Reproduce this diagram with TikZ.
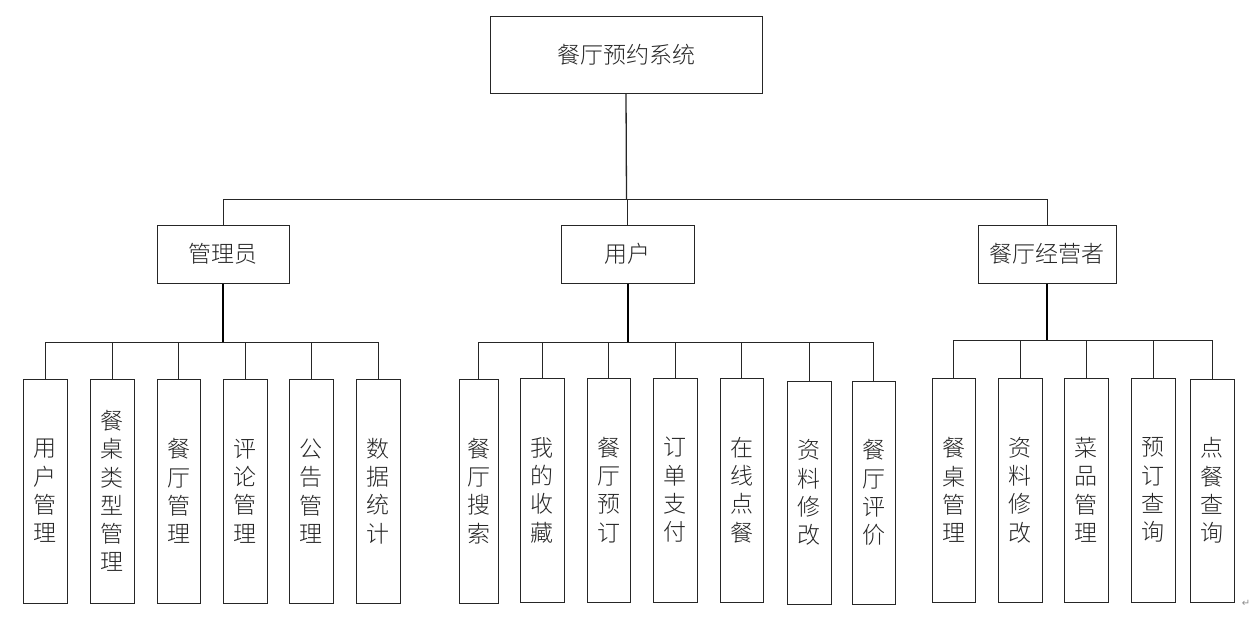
\documentclass[tikz,border=0pt]{standalone}
\usepackage{fontspec}
\newfontfamily\cjk{Noto Sans CJK SC}[UprightFont={* Light}]
\newfontfamily\dejavu{DejaVu Sans}
\begin{document}
\begin{tikzpicture}[x=1pt,y=-1pt,
  box/.style={draw=black!85,line width=1pt,inner sep=0pt,align=center,
    font=\cjk\fontsize{23}{28.3}\selectfont,text=black!85},
  leaf/.style={box,minimum width=44pt,minimum height=224pt},
  link/.style={line width=1pt,draw=black!85},
  trunk/.style={line width=2pt,draw=black}]
\useasboundingbox (0,0) rectangle (1258,619);
% top
\node[box,minimum width=272pt,minimum height=77pt] (top) at (626,54.5) {餐厅预约系统};
% level 2
\node[box,minimum width=132pt,minimum height=58pt] (admin) at (223,254) {管理员};
\node[box,minimum width=133pt,minimum height=58pt] (user) at (627.5,254) {用户};
\node[box,minimum width=138pt,minimum height=58pt] (owner) at (1047,254) {餐厅经营者};
% admin leaves
\node[leaf] (a1) at (45,491) {用\\户\\管\\理};
\node[leaf] (a2) at (112,491) {餐\\桌\\类\\型\\管\\理};
\node[leaf,minimum width=43pt] (a3) at (178.5,491) {餐\\厅\\管\\理};
\node[leaf] (a4) at (245,491) {评\\论\\管\\理};
\node[leaf] (a5) at (311,491) {公\\告\\管\\理};
\node[leaf] (a6) at (378,491) {数\\据\\统\\计};
% user leaves
\node[leaf,minimum width=39pt] (u1) at (478.5,491) {餐\\厅\\搜\\索};
\node[leaf] (u2) at (542,490) {我\\的\\收\\藏};
\node[leaf,minimum width=43pt] (u3) at (608.5,490) {餐\\厅\\预\\订};
\node[leaf] (u4) at (675,490) {订\\单\\支\\付};
\node[leaf,minimum width=43pt] (u5) at (741.5,490) {在\\线\\点\\餐};
\node[leaf,minimum height=223pt] (u6) at (809,492.5) {资\\料\\修\\改};
\node[leaf,minimum width=43pt,minimum height=223pt] (u7) at (873.5,492.5) {餐\\厅\\评\\价};
% owner leaves
\node[leaf,minimum width=43pt] (o1) at (953.5,490) {餐\\桌\\管\\理};
\node[leaf] (o2) at (1020,490) {资\\料\\修\\改};
\node[leaf] (o3) at (1086,490) {菜\\品\\管\\理};
\node[leaf] (o4) at (1153,490) {预\\订\\查\\询};
\node[leaf,minimum height=223pt] (o5) at (1212,490.5) {点\\餐\\查\\询};
% paragraph mark
\node[font=\dejavu\fontsize{10}{10}\selectfont,text=black!45,inner sep=0pt] (pm) at (1246,603) {↵};
% connectors: top level
\coordinate (mbus) at (626.5,199);
\draw[link,line width=1.3pt] (top.south) -- (mbus);
\draw[link] (admin.north |- mbus) -- (owner.north |- mbus);
\draw[link] (admin.north |- mbus) -- (admin.north);
\draw[link] (user.north |- mbus) -- (user.north);
\draw[link] (owner.north |- mbus) -- (owner.north);
% admin branch
\coordinate (abus) at (223,342);
\draw[trunk] (admin.south) -- (abus);
\draw[link] (a1.north |- abus) -- (a6.north |- abus);
\foreach \n in {a1,a2,a3,a4,a5,a6} \draw[link] (\n.north |- abus) -- (\n.north);
% user branch
\coordinate (ubus) at (627.5,342);
\draw[trunk] (user.south) -- (ubus);
\draw[link] (u1.north |- ubus) -- (u7.north |- ubus);
\foreach \n in {u1,u2,u3,u4,u5,u6,u7} \draw[link] (\n.north |- ubus) -- (\n.north);
% owner branch
\coordinate (obus) at (1047,340);
\draw[trunk] (owner.south) -- (obus);
\draw[link] (o1.north |- obus) -- (o5.north |- obus);
\foreach \n in {o1,o2,o3,o4,o5} \draw[link] (\n.north |- obus) -- (\n.north);
\end{tikzpicture}
\end{document}
